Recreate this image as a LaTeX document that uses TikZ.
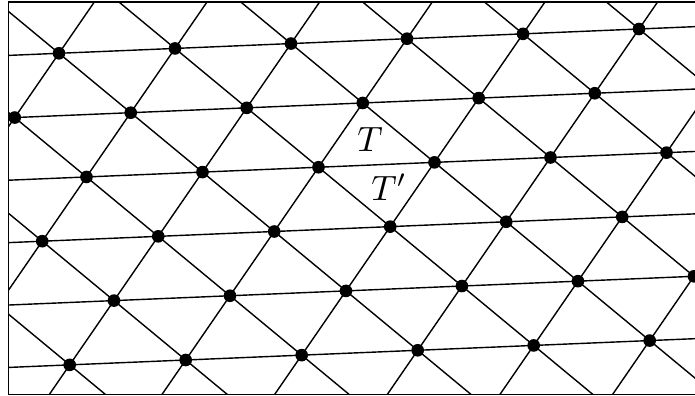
\documentclass[tikz,border=0pt]{standalone}
\usetikzlibrary{positioning}
\tikzset{
    latdot/.style={circle, fill=black, inner sep=0pt, minimum size=3.6pt},
    latline/.style={line width=0.4pt, draw=black}
}
\begin{document}
\begin{tikzpicture}
    \useasboundingbox (0,0) rectangle (6.95,-3.96);

    % --- FRAME ---
    \draw[latline] (0.083,-0.02) rectangle (7.0,-3.943);

    % --- LATTICE LINES (in lattice coordinates) ---
    \begin{scope}
        \clip (0.083,-0.02) rectangle (7.0,-3.943);
        \begin{scope}[cm={1.16,0.0486,-0.4426,-0.6426,(0.59,-0.533)}]
            \foreach \v in {-2,...,7}
                \draw[latline] (-10,\v) -- (15,\v);
            \foreach \u in {-6,...,14}
                \draw[latline] (\u,-3) -- (\u,9);
            \foreach \k in {-12,...,10}
                \draw[latline] (\k-3,-3) -- (\k+9,9);
        \end{scope}
    \end{scope}

    % --- LATTICE POINTS ---
    \begin{scope}[cm={1.16,0.0486,-0.4426,-0.6426,(0.59,-0.533)}]
        \foreach \v in {0,...,5}
            \foreach \u in {0,...,5} {
                \pgfmathtruncatemacro{\uu}{\u+int(\v/2)}
                \node[latdot] (p\uu-\v) at (\uu,\v) {};
            }
    \end{scope}

    % --- LABELS ---
    \node (labT) at (3.70,-1.40) {$T$};
    \node (labTp) at (3.89,-1.875) {$T'$};

\end{tikzpicture}
\end{document}
